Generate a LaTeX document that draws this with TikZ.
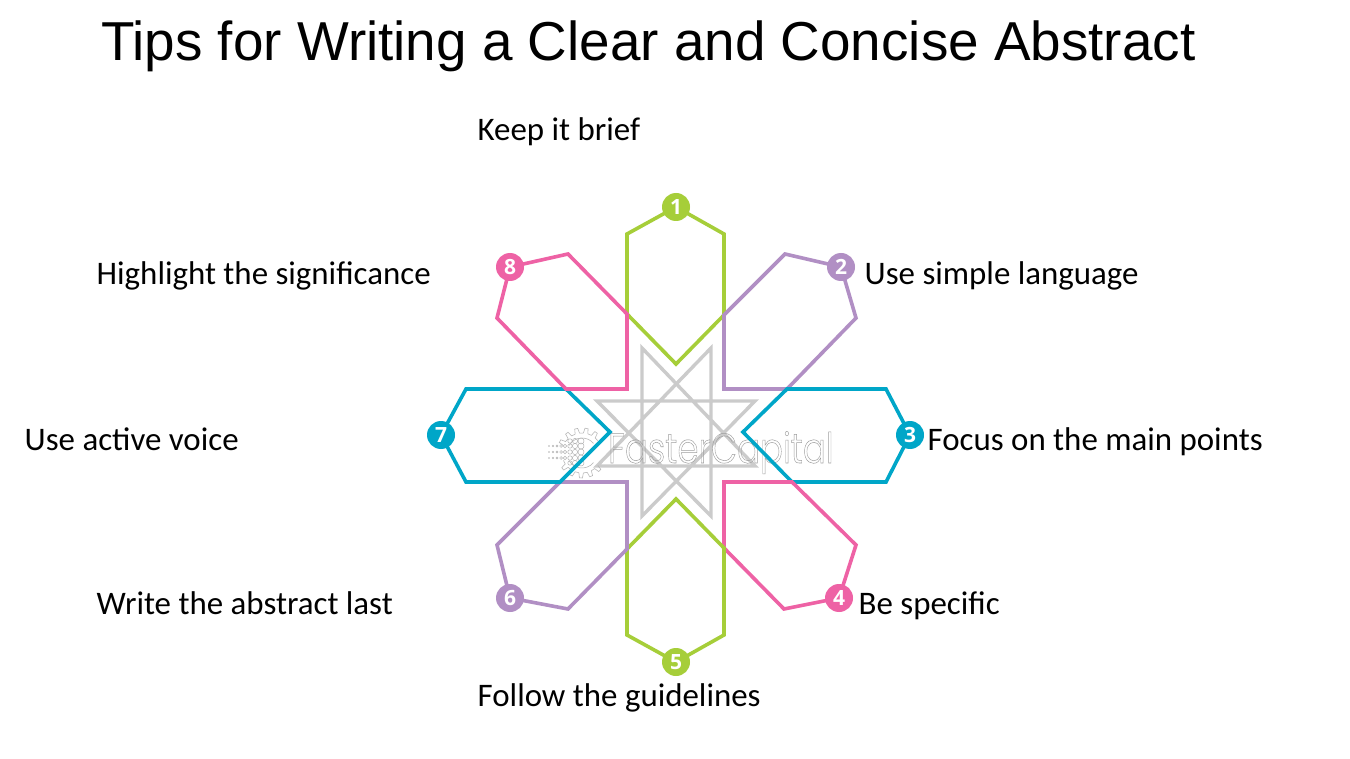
\documentclass[tikz,border=0pt]{standalone}
\usepackage{fontspec}
\setmainfont{Carlito}
\newfontfamily\titlefont{Liberation Sans}
\newfontfamily\badgefont{Open Sans}
\newfontfamily\markfont{Poppins Light}
\definecolor{leaf}{HTML}{A6CE39}
\definecolor{lilac}{HTML}{B18FC4}
\definecolor{teal}{HTML}{00A6C8}
\definecolor{rose}{HTML}{EE62A5}
\definecolor{stargray}{HTML}{CBCBCB}
\definecolor{markgray}{HTML}{B4B4B4}
\newcommand{\outlinetext}[1]{\special{pdf:code q 1 Tr 0.5 w 0.62 0.62 0.62 RG}#1\special{pdf:code Q}}
\tikzset{
  petal/.style={line width=3.6pt,line join=miter},
  badge/.style={circle,fill=#1,minimum size=28pt,inner sep=0pt,text=white,font=\badgefont\bfseries\fontsize{21}{21}\selectfont},
  tip/.style={anchor=base west,inner sep=0pt,font=\fontsize{32.9}{33}\selectfont,text=black},
}
\begin{document}
\begin{tikzpicture}[x=1pt,y=-1pt]
\useasboundingbox (0,0) rectangle (1350,759);
\fill[white] (0,0) rectangle (1350,759);

% title
\node[anchor=base west,inner sep=0pt,font=\titlefont\fontsize{54.85}{55}\selectfont] (title) at (101,61) {Tips for Writing a Clear and Concise Abstract};

% central eight-pointed star
\draw[stargray,line width=3.4pt,line join=miter]
  (642,348) -- (642,516) -- (755,401) -- (597,401) -- (711,516) -- (711,348) -- (597,466) -- (755,466) -- cycle;

% gear emblem: teeth on the upper and lower arcs, inner ring, dots running into it
\begin{scope}[markgray,line width=.55pt,shift={(582,453)}]
  \foreach \a in {38,62,86,110,134}{
    \draw ({\a}:20) -- ({\a+3}:25) -- ({\a+10}:25) -- ({\a+13}:20) -- ({\a+24}:20);
  }
  \foreach \a in {202,226,250,274,298}{
    \draw ({\a}:20) -- ({\a+3}:25) -- ({\a+10}:25) -- ({\a+13}:20) -- ({\a+24}:20);
  }
  \draw (40:15) arc[start angle=40,end angle=150,radius=15];
  \draw (210:15) arc[start angle=210,end angle=320,radius=15];
\end{scope}
\begin{scope}[markgray,line width=.5pt]
  \foreach \py in {446,452,458}{
    \foreach \px/\r in {549/.5,553/.7,557/1,561/1.4,565/1.8,570/2.2,575/2.6,581/3}
      \draw (\px,\py) circle[radius=\r];
  }
  \foreach \px/\r in {570/2.2,575/2.6,581/3}{
    \draw (\px,441) circle[radius=\r];
    \draw (\px,463) circle[radius=\r];
  }
\end{scope}

% wordmark
\node[anchor=base west,inner sep=0pt,xscale=.81,transform shape,font=\markfont\fontsize{42}{42}\selectfont] (mark) at (608,463) {\outlinetext{FasterCapital}};

% petals, each starting and ending at its numbered badge
\coordinate (n1) at (676,207);
\coordinate (n2) at (841,267);
\coordinate (n3) at (910,435);
\coordinate (n4) at (839,598);
\coordinate (n5) at (676,662);
\coordinate (n6) at (510,598);
\coordinate (n7) at (441,435);
\coordinate (n8) at (510,267);
\draw[petal,leaf]  (n1) -- (724,234) -- (724,315) -- (676,364) -- (627,314) -- (627,234) -- cycle;
\draw[petal,lilac] (n2) -- (856,318) -- (787,389) -- (724,389) -- (724,315) -- (785,254) -- cycle;
\draw[petal,teal]  (n3) -- (886,482) -- (792,482) -- (743,432) -- (787,389) -- (886,389) -- cycle;
\draw[petal,rose]  (n4) -- (784,609) -- (724,548) -- (724,482) -- (792,482) -- (856,545) -- cycle;
\draw[petal,leaf]  (n5) -- (627,635) -- (627,549) -- (676,499) -- (724,548) -- (724,635) -- cycle;
\draw[petal,lilac] (n6) -- (497,545) -- (560,482) -- (627,482) -- (627,549) -- (568,609) -- cycle;
\draw[petal,teal]  (n7) -- (466,389) -- (566,389) -- (610,432) -- (560,482) -- (466,482) -- cycle;
\draw[petal,rose]  (n8) -- (568,254) -- (627,314) -- (627,389) -- (566,389) -- (497,318) -- cycle;

% numbered badges
\node[badge=leaf]  (b1) at (n1) {1};
\node[badge=lilac] (b2) at (n2) {2};
\node[badge=teal]  (b3) at (n3) {3};
\node[badge=rose]  (b4) at (n4) {4};
\node[badge=leaf]  (b5) at (n5) {5};
\node[badge=lilac] (b6) at (n6) {6};
\node[badge=teal]  (b7) at (n7) {7};
\node[badge=rose]  (b8) at (n8) {8};

% tips
\node[tip] (t1) at (477.5,141) {Keep it brief};
\node[tip] (t2) at (864.5,285) {Use simple language};
\node[tip] (t3) at (927.5,450) {Focus on the main points};
\node[tip] (t4) at (858.5,614) {Be specific};
\node[tip] (t5) at (477.5,706) {Follow the guidelines};
\node[tip] (t6) at (96.5,614) {Write the abstract last};
\node[tip] (t7) at (24.5,450) {Use active voice};
\node[tip] (t8) at (96.5,285) {Highlight the significance};
\end{tikzpicture}
\end{document}
